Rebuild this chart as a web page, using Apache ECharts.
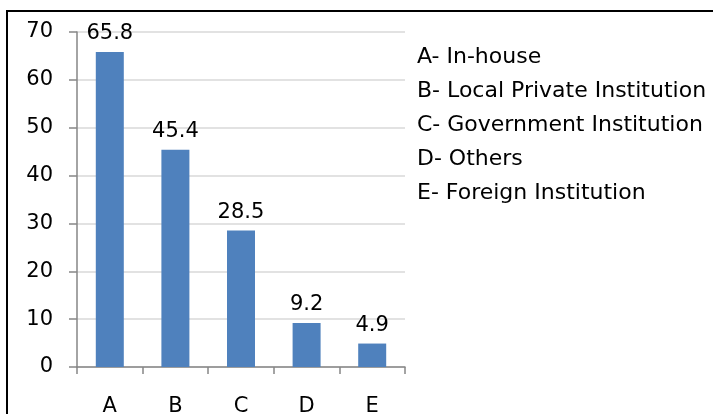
<!DOCTYPE html>
<html>
<head>
<meta charset="utf-8">
<script src="https://cdn.jsdelivr.net/npm/echarts@6/dist/echarts.min.js"></script>
<style>html,body{margin:0;padding:0;background:#fff}#c{width:713px;height:414px}</style>
</head>
<body>
<div id="c"></div>
<script>
var categories = ['A', 'B', 'C', 'D', 'E'];
var values = [65.8, 45.4, 28.5, 9.2, 4.9];
var legendLines = ['A- In-house', 'B- Local Private Institution', 'C- Government Institution', 'D- Others', 'E- Foreign Institution'];
var yTicks = [0, 10, 20, 30, 40, 50, 60, 70];

var chart = echarts.init(document.getElementById('c'));
var FONT = 'DejaVu Sans';
var graphics = [{
  type: 'rect', shape: {x: 7, y: 11, width: 760, height: 460},
  style: {fill: 'none', stroke: '#000', lineWidth: 2}, z: 10
}];
legendLines.forEach(function (t, i) {
  graphics.push({
    type: 'text', x: 417, y: 57 + i * 34,
    style: {text: t, font: '22px "' + FONT + '"', fill: '#000', verticalAlign: 'middle'}
  });
});
chart.setOption({
  animation: false,
  grid: {left: 77, right: 308, top: 32, bottom: 47, containLabel: false, outerBoundsMode: 'none'},
  xAxis: {
    type: 'category', data: categories,
    axisLine: {lineStyle: {color: '#868686', width: 1.5}},
    axisTick: {show: true, length: 7, lineStyle: {color: '#868686', width: 1.5}},
    axisLabel: {fontFamily: FONT, fontSize: 21, color: '#000', margin: 29}
  },
  yAxis: {
    type: 'value', min: yTicks[0], max: yTicks[yTicks.length - 1], interval: 10,
    axisLine: {show: true, lineStyle: {color: '#868686', width: 1.5}},
    axisTick: {show: true, length: 8, lineStyle: {color: '#868686', width: 1.5}},
    splitLine: {lineStyle: {color: '#d9d9d9', width: 1.5}},
    axisLabel: {fontFamily: FONT, fontSize: 21, color: '#000', margin: 24}
  },
  series: [{
    type: 'bar', data: values, barWidth: 28,
    itemStyle: {color: '#4F81BD'},
    label: {show: true, position: 'top', distance: 8, fontFamily: FONT, fontSize: 21, color: '#000'}
  }],
  graphic: graphics
});
</script>
</body>
</html>
